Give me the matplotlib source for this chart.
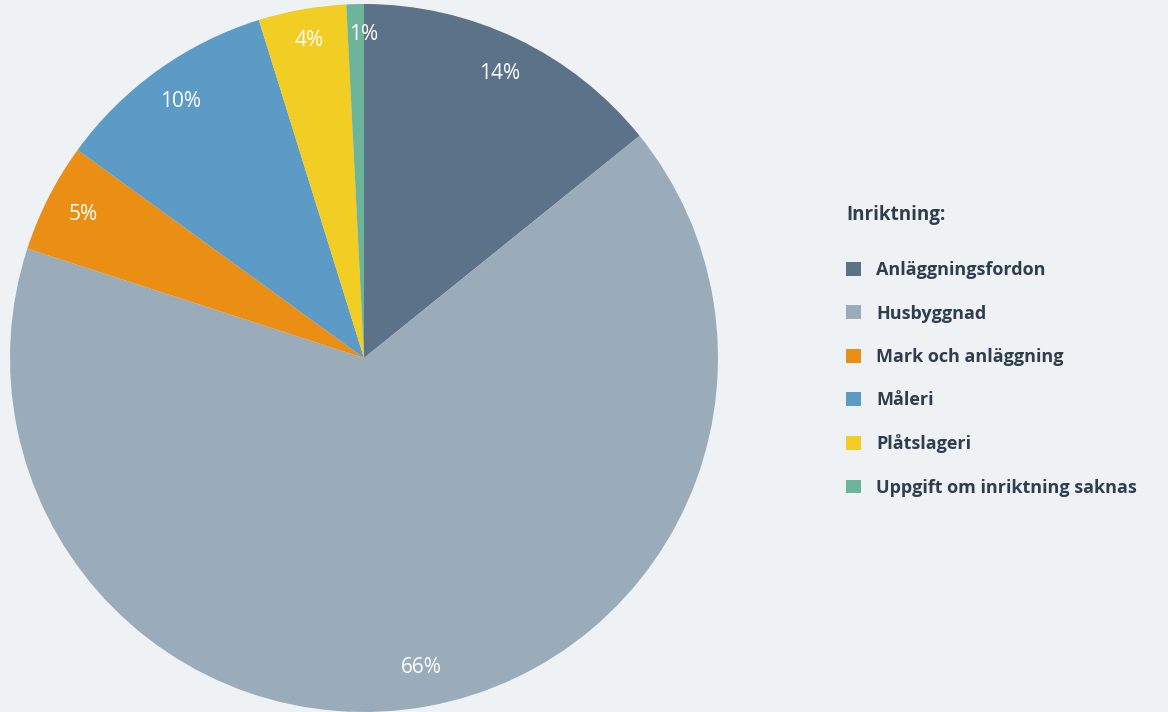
import matplotlib.pyplot as plt
from matplotlib.patches import Patch

categories = ["Anläggningsfordon", "Husbyggnad", "Mark och anläggning",
              "Måleri", "Plåtslageri", "Uppgift om inriktning saknas"]
shares = [14.2, 65.8, 5.0, 10.2, 4.0, 0.8]
colors = ["#5c7289", "#9aabba", "#ea8f14", "#5b9bc6", "#f2cd23", "#6db59a"]
legend_title = "Inriktning:"

bg = "#eef2f5"
text_dark = "#2f3d4c"

plt.rcParams['font.family'] = ['Open Sans', 'DejaVu Sans']

fig = plt.figure(figsize=(11.68, 7.12), dpi=100, facecolor=bg)
# pie centred at (364, 358) px, radius ~354 px
ax = fig.add_axes([10 / 1168, 0 / 712, 708 / 1168, 708 / 712])
ax.set_facecolor(bg)

wedges, texts, autotexts = ax.pie(
    shares, colors=colors, startangle=90, counterclock=False,
    autopct='%.0f%%', pctdistance=0.89, radius=1.0,
    wedgeprops=dict(linewidth=0),
    textprops=dict(color="white", fontsize=15))
ax.set_xlim(-1, 1)
ax.set_ylim(-1, 1)
ax.set_aspect('equal')
ax.axis('off')

# small top slices sit a bit higher in the reference
x4, y4 = autotexts[4].get_position()
autotexts[4].set_position((x4, y4 + 0.02))
x5, y5 = autotexts[5].get_position()
autotexts[5].set_position((0.0, y5 + 0.025))

handles = [Patch(facecolor=c, edgecolor='none') for c in colors]
leg = fig.legend(handles, categories, loc='upper left',
                 bbox_to_anchor=(830 / 1168, 1 - 189 / 712),
                 frameon=False, title=legend_title, alignment='left',
                 prop=dict(weight='bold', size=13),
                 title_fontproperties=dict(weight='bold', size=13.5),
                 handlelength=0.8, handleheight=0.8, handletextpad=0.85,
                 labelspacing=1.4)
for t in leg.get_texts():
    t.set_color(text_dark)
leg.get_title().set_color(text_dark)
leg._legend_box.sep = 26

fig.savefig("out.png", dpi=100, facecolor=bg)
